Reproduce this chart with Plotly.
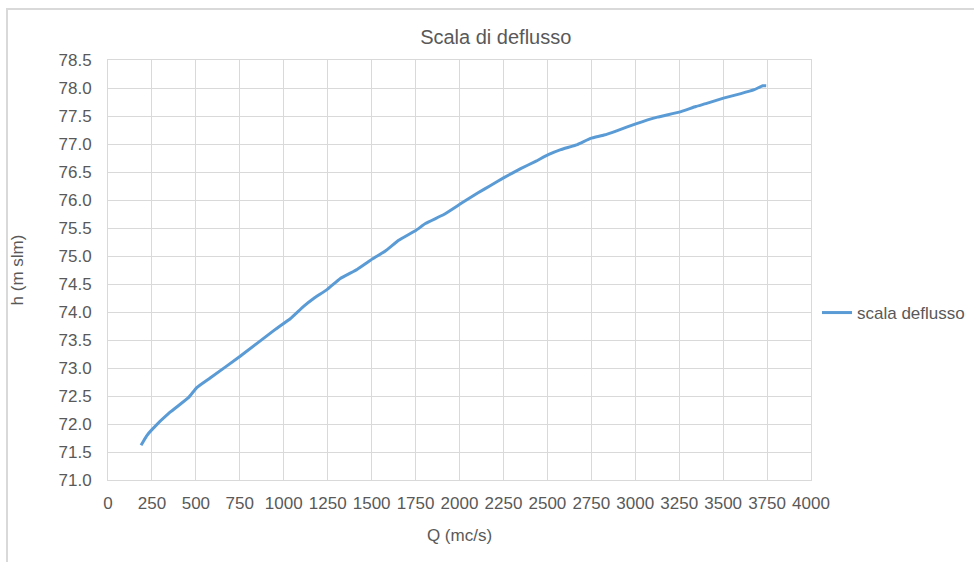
import plotly.graph_objects as go

# Rating curve: discharge Q (m3/s) vs water level h (m a.s.l.)
portata_q = [188, 220, 250, 353, 458, 505, 581, 752, 952, 1037, 1113, 1170, 1246,
             1322, 1417, 1506, 1578, 1654, 1753, 1806, 1911, 2010, 2101, 2177,
             2253, 2348, 2433, 2505, 2576, 2671, 2746, 2822, 2898, 3003, 3126,
             3250, 3345, 3402, 3502, 3601, 3677, 3725, 3745]
livello_h = [71.62, 71.79, 71.90, 72.21, 72.47, 72.65, 72.82, 73.21, 73.69, 73.88,
             74.10, 74.24, 74.40, 74.60, 74.76, 74.95, 75.09, 75.28, 75.46, 75.58,
             75.74, 75.94, 76.12, 76.26, 76.40, 76.56, 76.69, 76.81, 76.90, 76.99,
             77.10, 77.16, 77.24, 77.36, 77.48, 77.57, 77.67, 77.72, 77.82, 77.90,
             77.97, 78.04, 78.04]
serie_nome = "scala deflusso"

FONT = "Liberation Sans Narrow, Arial Narrow, Liberation Sans, sans-serif"
TEXT = "#595959"
GRID = "#D9D9D9"

fig = go.Figure()
fig.add_trace(go.Scatter(
    x=portata_q, y=livello_h, mode="lines", name=serie_nome,
    line=dict(color="#5B9BD5", width=3, shape="spline", smoothing=0.3),
))

fig.update_layout(
    width=974, height=562,
    margin=dict(l=108, r=163, t=60, b=82, autoexpand=False),
    paper_bgcolor="white", plot_bgcolor="white",
    font=dict(family=FONT, color=TEXT, size=17),
    title=dict(text="Scala di deflusso", x=0.509, xref="container",
               y=1 - 37 / 562, yanchor="middle", yref="container",
               font=dict(size=20, color=TEXT, family=FONT)),
    showlegend=True,
    legend=dict(x=817 / 974, xref="container", xanchor="left",
                y=1 - 313 / 562, yref="container", yanchor="middle",
                font=dict(size=17, color=TEXT), bgcolor="rgba(0,0,0,0)"),
    xaxis=dict(range=[0, 4000], dtick=250, tick0=0, showgrid=True,
               gridcolor=GRID, gridwidth=1, showline=True, linecolor=GRID,
               mirror=True, zeroline=False, ticks="outside", ticklen=8,
               tickcolor="rgba(0,0,0,0)",
               title=dict(text="Q (mc/s)", standoff=16, font=dict(size=17))),
    yaxis=dict(range=[71, 78.5], dtick=0.5, tick0=71, tickformat=".1f",
               showgrid=True, gridcolor=GRID, gridwidth=1, showline=True,
               linecolor=GRID, mirror=True, zeroline=False, ticks="outside",
               ticklen=12, tickcolor="rgba(0,0,0,0)",
               title=dict(text="h (m slm)", standoff=30, font=dict(size=17))),
)

# Outer chart frame
fig.add_shape(type="rect", xref="paper", yref="paper",
              x0=(7 - 108) / 703, x1=1.3, y0=-0.3, y1=(480 - 9) / 420,
              line=dict(color=GRID, width=2), fillcolor="rgba(0,0,0,0)",
              layer="below")

fig.write_html("out.html")
